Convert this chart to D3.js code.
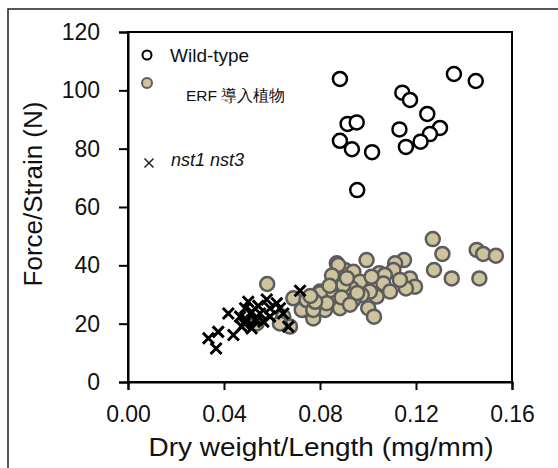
<!DOCTYPE html>
<html><head><meta charset="utf-8">
<script src="https://cdn.jsdelivr.net/npm/d3@7"></script>
<style>body{margin:0;background:#fff}svg{display:block}text{font-family:"Liberation Sans",Arial,sans-serif;fill:#111}</style>
</head><body><svg id="c" width="558" height="468"></svg>
<script>
const xTicks=[0,0.04,0.08,0.12,0.16];
const yTicks=[0,20,40,60,80,100,120];
const xTitle="Dry weight/Length (mg/mm)";
const yTitle="Force/Strain (N)";
const legendLabels=["Wild-type","ERF 導入植物","nst1 nst3"];
const wildX=[0.0883,0.1358,0.1449,0.1143,0.1175,0.1247,0.0915,0.0953,0.1131,0.130,0.1258,0.1219,0.0883,0.0933,0.1017,0.1158,0.0955];
const wildY=[103.9,105.6,103.2,99.2,96.7,91.9,88.5,89.0,86.6,87.1,85.0,82.4,82.7,79.8,78.8,80.6,65.8];
const erfX=[0.127,0.131,0.1453,0.148,0.1533,0.1275,0.1349,0.1464,0.0994,0.115,0.1113,0.1106,0.1047,0.107,0.1175,0.1196,0.1158,0.1133,0.1064,0.1092,0.1036,0.1001,0.1025,0.087,0.0904,0.0939,0.0863,0.0967,0.0932,0.1008,0.0974,0.0814,0.087,0.0939,0.0883,0.0821,0.0772,0.0731,0.08,0.0842,0.1015,0.0897,0.058,0.0689,0.0724,0.0647,0.0675,0.08,0.0828,0.0633,0.0536,0.0744,0.0772,0.0876,0.0912,0.0955,0.0850,0.0780,0.0890,0.0925,0.0840,0.0760];
const erfY=[49.0,43.9,45.3,43.9,43.3,38.4,35.5,35.5,41.8,41.8,40.7,38.4,37.3,36.7,35.5,32.7,32.1,35.0,33.8,31.0,29.3,25.3,22.4,40.7,38.4,37.8,34.4,34.4,32.1,31.0,29.8,29.8,29.3,28.1,25.3,24.7,21.8,24.7,31.0,31.5,36.1,33.3,33.6,28.7,24.7,22.4,19.0,30.4,27.0,20.1,20.1,28.1,24.7,40.1,35.6,30.5,36.5,27.5,29.0,26.5,33.0,29.5];
const nstX=[0.0717,0.0418,0.0501,0.0578,0.062,0.0488,0.0515,0.055,0.0592,0.0647,0.0494,0.0529,0.0564,0.0474,0.0515,0.0668,0.0439,0.0376,0.0335,0.0367,0.0467,0.0543,0.0592,0.0633,0.0485,0.0536];
const nstY=[31.3,23.5,27.5,28.3,27.0,25.3,24.1,23.5,22.4,23.5,21.3,21.3,20.7,19.0,18.4,19.0,16.1,17.2,15.0,11.5,22.4,26.1,25.3,25.3,20.0,21.3];

const svg=d3.select("#c");
const L=128,R=512,T=32,B=382;
const x=d3.scaleLinear().domain([0,0.16]).range([L,R]);
const y=d3.scaleLinear().domain([0,120]).range([B,T]);

// outer frame
svg.append("rect").attr("x",8).attr("y",9).attr("width",570).attr("height",480)
  .attr("fill","none").attr("stroke","#222").attr("stroke-width",1.5);

// plot box
svg.append("rect").attr("x",L).attr("y",T).attr("width",R-L).attr("height",B-T)
  .attr("fill","none").attr("stroke","#000").attr("stroke-width",2);

const xa=svg.append("g").attr("transform",`translate(0,${B})`)
  .call(d3.axisBottom(x).tickValues(xTicks).tickFormat(d3.format(".2f")).tickSize(8).tickPadding(16));
const ya=svg.append("g").attr("transform",`translate(${L},0)`)
  .call(d3.axisLeft(y).tickValues(yTicks).tickSize(9).tickPadding(19));
[xa,ya].forEach(a=>{a.select(".domain").attr("stroke","#000").attr("stroke-width",2);
  a.selectAll(".tick line").attr("stroke","#000").attr("stroke-width",2);
  a.selectAll(".tick text").attr("font-family","Liberation Sans, Arial, sans-serif").attr("font-size",23).attr("fill","#111");});

svg.append("text").attr("x",321).attr("y",456).attr("text-anchor","middle").attr("font-size",25)
  .attr("textLength",345).attr("lengthAdjust","spacingAndGlyphs").text(xTitle);
svg.append("text").attr("transform","translate(42,194) rotate(-90)").attr("text-anchor","middle").attr("font-size",26).text(yTitle);

// data
const ERF_FILL="#cdc49e", ERF_STROKE="#5c5c5c";
svg.append("g").selectAll("circle").data(erfX.map((d,i)=>[d,erfY[i]])).join("circle")
  .attr("cx",d=>x(d[0])).attr("cy",d=>y(d[1])).attr("r",7)
  .attr("fill",ERF_FILL).attr("stroke",ERF_STROKE).attr("stroke-width",2.5);
const cr=5.5;
svg.append("g").selectAll("path").data(nstX.map((d,i)=>[d,nstY[i]])).join("path")
  .attr("d",d=>{const cx=x(d[0]),cy=y(d[1]);return `M${cx-cr},${cy-cr}L${cx+cr},${cy+cr}M${cx-cr},${cy+cr}L${cx+cr},${cy-cr}`;})
  .attr("stroke","#000").attr("stroke-width",3).attr("fill","none");
svg.append("g").selectAll("circle").data(wildX.map((d,i)=>[d,wildY[i]])).join("circle")
  .attr("cx",d=>x(d[0])).attr("cy",d=>y(d[1])).attr("r",7)
  .attr("fill","#fff").attr("stroke","#000").attr("stroke-width",2.5);

// legend
svg.append("circle").attr("cx",147).attr("cy",55).attr("r",4.5).attr("fill","#fff").attr("stroke","#000").attr("stroke-width",2);
svg.append("text").attr("x",170).attr("y",61.5).attr("font-size",19).text(legendLabels[0]);
svg.append("circle").attr("cx",147).attr("cy",83).attr("r",5).attr("fill",ERF_FILL).attr("stroke",ERF_STROKE).attr("stroke-width",2);
svg.append("text").attr("x",186).attr("y",100.5).attr("font-size",15.5).attr("font-family","Noto Sans CJK JP").text(legendLabels[1]);
const lx=149,ly=163,lr=4.5;
svg.append("path").attr("d",`M${lx-lr},${ly-lr}L${lx+lr},${ly+lr}M${lx-lr},${ly+lr}L${lx+lr},${ly-lr}`).attr("stroke","#222").attr("stroke-width",1.5);
svg.append("text").attr("x",171).attr("y",166).attr("font-size",18).attr("font-style","italic").text(legendLabels[2]);
</script></body></html>
